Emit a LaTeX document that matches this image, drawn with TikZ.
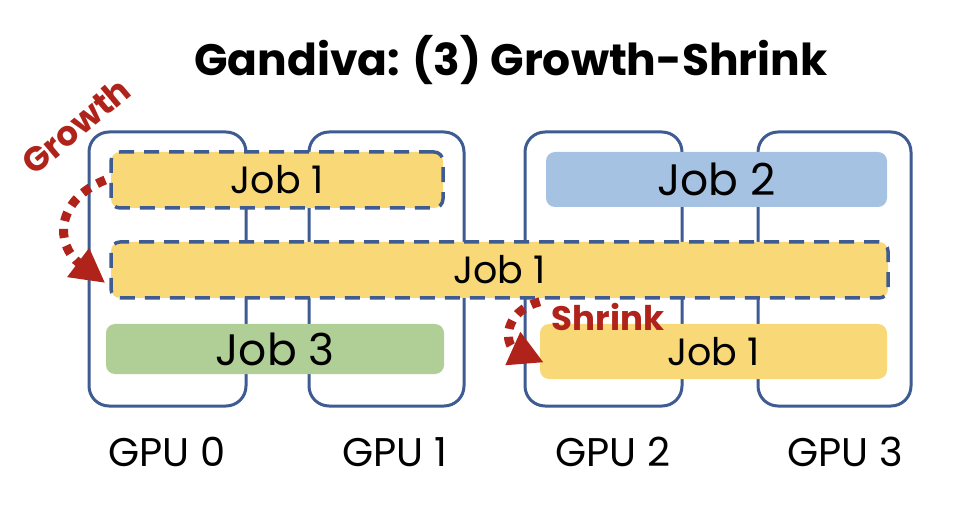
\documentclass[tikz,border=0pt]{standalone}
\usepackage{fontspec}
\setmainfont{Poppins}
\usetikzlibrary{arrows.meta}
\definecolor{gpublue}{HTML}{3E5B92}
\definecolor{jobyellow}{HTML}{F9D877}
\definecolor{jobblue}{HTML}{A5C2E3}
\definecolor{jobgreen}{HTML}{B0CF96}
\definecolor{arrred}{HTML}{B0231A}
\tikzset{
  gpubox/.style={draw=gpublue, line width=3pt, rounded corners=20pt},
  jobbox/.style={rounded corners=9pt, inner sep=0pt, font=\fontsize{38}{44}\selectfont},
  bigjob/.style={jobbox, font=\fontsize{44}{50}\selectfont},
  dashjob/.style={jobbox, fill=jobyellow, draw=gpublue, line width=3.5pt, dash pattern=on 15pt off 10pt},
  gpulabel/.style={font=\fontsize{40}{46}\selectfont},
  movearrow/.style={draw=arrred, line width=9pt, dash pattern=on 9pt off 8pt,
     -{Triangle[length=34pt,width=34pt]}},
  movetext/.style={text=arrred, font=\fontsize{34}{38}\selectfont\bfseries}
}
\begin{document}
\begin{tikzpicture}[x=1pt,y=-1pt]
\useasboundingbox (0,0) rectangle (958,510);
% GPU boxes
\draw[gpubox] (89,132) rectangle (246,406);
\draw[gpubox] (309,132) rectangle (464,406);
\draw[gpubox] (525,132) rectangle (682,406);
\draw[gpubox] (758,132) rectangle (911,406);
% jobs
\node[dashjob, minimum width=332pt, minimum height=56pt] (j1a) at (277,180) {Job 1};
\node[dashjob, minimum width=777pt, minimum height=56pt] (j1b) at (499.5,270) {Job 1};
\node[bigjob, fill=jobgreen, minimum width=338pt, minimum height=50pt] (j3) at (275,349) {Job 3};
\node[bigjob, fill=jobblue, minimum width=341pt, minimum height=55pt] (j2) at (716.5,179.5) {Job 2};
\node[jobbox, fill=jobyellow, minimum width=347pt, minimum height=55pt] (j1c) at (713.5,351.5) {Job 1};
% GPU labels
\node[gpulabel] (g0) at (167,452) {GPU 0};
\node[gpulabel] (g1) at (395,452) {GPU 1};
\node[gpulabel] (g2) at (613,452) {GPU 2};
\node[gpulabel] (g3) at (845,452) {GPU 3};
% title
\node[font=\fontsize{44}{50}\selectfont\bfseries] (title) at (511,60) {Gandiva: (3) Growth-Shrink};
% arrows
\draw[movearrow] ([xshift=-4pt]j1a.west) .. controls (55,200) and (55,245) .. ([xshift=-4pt,yshift=-13pt]j1b.west);
\node[movetext, rotate=40] (gt) at (76,126) {Growth};
\draw[movearrow] ([yshift=-2pt]j1b.south -| j1c.west) .. controls (502,312) and (505,345) .. ([xshift=4pt,yshift=-11pt]j1c.west);
\node[movetext] (st) at (608,317) {Shrink};
\end{tikzpicture}
\end{document}
